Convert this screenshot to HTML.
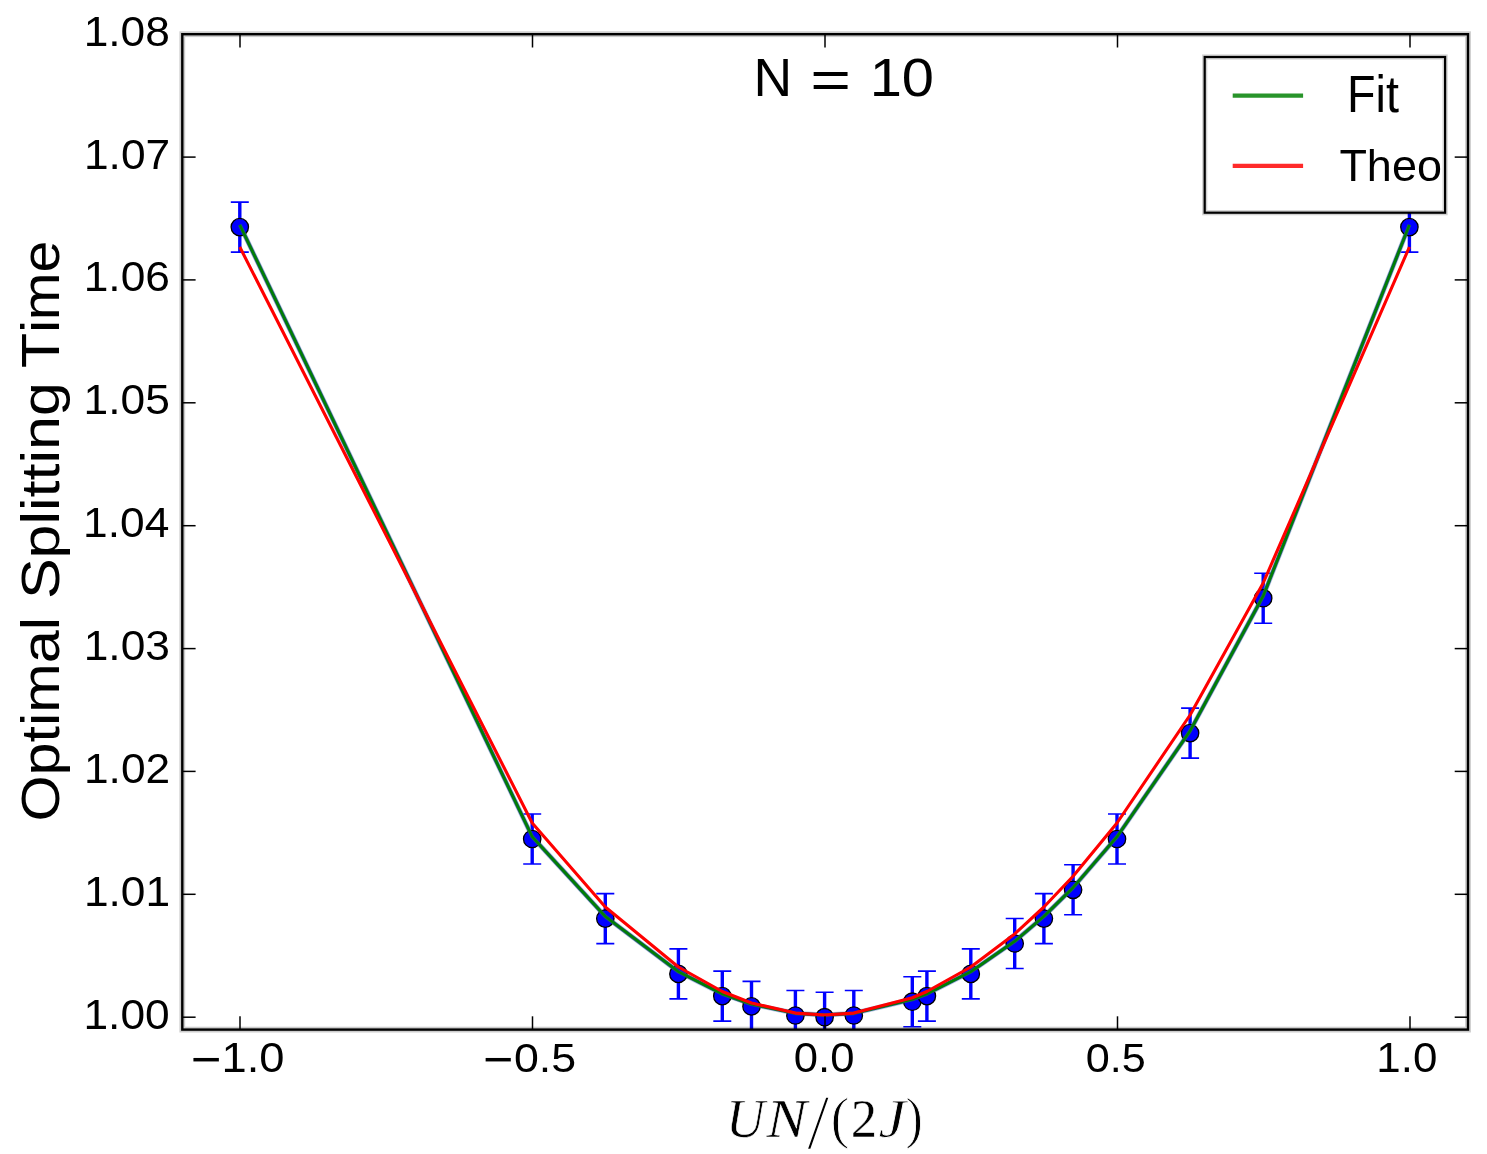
<!DOCTYPE html>
<html lang="en">
<head>
<meta charset="utf-8">
<title>Optimal Splitting Time vs UN/(2J), N = 10</title>
<style>
html,body{margin:0;padding:0;background:#ffffff;}
body{width:1487px;height:1154px;overflow:hidden;}
svg{display:block;filter:blur(0.55px);}
text{font-family:"Liberation Sans",sans-serif;fill:#000;font-kerning:none;font-variant-ligatures:none;}
.tk{font-size:40.5px;}
.serif{font-family:"Liberation Serif",serif;}
</style>
</head>
<body>
<svg width="1487" height="1154" viewBox="0 0 1487 1154">
<rect x="0" y="0" width="1487" height="1154" fill="#ffffff"/>
<defs><clipPath id="ax"><rect x="182.3" y="34.2" width="1285.7" height="995.4"/></clipPath></defs>

<g clip-path="url(#ax)">
<g stroke="#0000ff" fill="none">
<line x1="239.8" y1="202.1" x2="239.8" y2="252.1" stroke-width="3.4"/>
<line x1="230.8" y1="202.1" x2="248.8" y2="202.1" stroke-width="1.6"/>
<line x1="230.8" y1="252.1" x2="248.8" y2="252.1" stroke-width="1.6"/>
<line x1="532.2" y1="814.0" x2="532.2" y2="864.0" stroke-width="3.4"/>
<line x1="523.2" y1="814.0" x2="541.2" y2="814.0" stroke-width="1.6"/>
<line x1="523.2" y1="864.0" x2="541.2" y2="864.0" stroke-width="1.6"/>
<line x1="605.3" y1="893.6" x2="605.3" y2="943.6" stroke-width="3.4"/>
<line x1="596.3" y1="893.6" x2="614.3" y2="893.6" stroke-width="1.6"/>
<line x1="596.3" y1="943.6" x2="614.3" y2="943.6" stroke-width="1.6"/>
<line x1="678.4" y1="948.9" x2="678.4" y2="998.9" stroke-width="3.4"/>
<line x1="669.4" y1="948.9" x2="687.4" y2="948.9" stroke-width="1.6"/>
<line x1="669.4" y1="998.9" x2="687.4" y2="998.9" stroke-width="1.6"/>
<line x1="722.3" y1="971.1" x2="722.3" y2="1021.1" stroke-width="3.4"/>
<line x1="713.3" y1="971.1" x2="731.3" y2="971.1" stroke-width="1.6"/>
<line x1="713.3" y1="1021.1" x2="731.3" y2="1021.1" stroke-width="1.6"/>
<line x1="751.5" y1="981.4" x2="751.5" y2="1031.4" stroke-width="3.4"/>
<line x1="742.5" y1="981.4" x2="760.5" y2="981.4" stroke-width="1.6"/>
<line x1="742.5" y1="1031.4" x2="760.5" y2="1031.4" stroke-width="1.6"/>
<line x1="795.4" y1="990.5" x2="795.4" y2="1040.5" stroke-width="3.4"/>
<line x1="786.4" y1="990.5" x2="804.4" y2="990.5" stroke-width="1.6"/>
<line x1="786.4" y1="1040.5" x2="804.4" y2="1040.5" stroke-width="1.6"/>
<line x1="824.6" y1="992.2" x2="824.6" y2="1042.2" stroke-width="3.4"/>
<line x1="815.6" y1="992.2" x2="833.6" y2="992.2" stroke-width="1.6"/>
<line x1="815.6" y1="1042.2" x2="833.6" y2="1042.2" stroke-width="1.6"/>
<line x1="853.8" y1="990.5" x2="853.8" y2="1040.5" stroke-width="3.4"/>
<line x1="844.8" y1="990.5" x2="862.8" y2="990.5" stroke-width="1.6"/>
<line x1="844.8" y1="1040.5" x2="862.8" y2="1040.5" stroke-width="1.6"/>
<line x1="912.3" y1="976.7" x2="912.3" y2="1026.7" stroke-width="3.4"/>
<line x1="903.3" y1="976.7" x2="921.3" y2="976.7" stroke-width="1.6"/>
<line x1="903.3" y1="1026.7" x2="921.3" y2="1026.7" stroke-width="1.6"/>
<line x1="926.9" y1="971.1" x2="926.9" y2="1021.1" stroke-width="3.4"/>
<line x1="917.9" y1="971.1" x2="935.9" y2="971.1" stroke-width="1.6"/>
<line x1="917.9" y1="1021.1" x2="935.9" y2="1021.1" stroke-width="1.6"/>
<line x1="970.8" y1="948.9" x2="970.8" y2="998.9" stroke-width="3.4"/>
<line x1="961.8" y1="948.9" x2="979.8" y2="948.9" stroke-width="1.6"/>
<line x1="961.8" y1="998.9" x2="979.8" y2="998.9" stroke-width="1.6"/>
<line x1="1014.7" y1="918.5" x2="1014.7" y2="968.5" stroke-width="3.4"/>
<line x1="1005.7" y1="918.5" x2="1023.7" y2="918.5" stroke-width="1.6"/>
<line x1="1005.7" y1="968.5" x2="1023.7" y2="968.5" stroke-width="1.6"/>
<line x1="1043.9" y1="893.6" x2="1043.9" y2="943.6" stroke-width="3.4"/>
<line x1="1034.9" y1="893.6" x2="1052.9" y2="893.6" stroke-width="1.6"/>
<line x1="1034.9" y1="943.6" x2="1052.9" y2="943.6" stroke-width="1.6"/>
<line x1="1073.1" y1="864.8" x2="1073.1" y2="914.8" stroke-width="3.4"/>
<line x1="1064.1" y1="864.8" x2="1082.1" y2="864.8" stroke-width="1.6"/>
<line x1="1064.1" y1="914.8" x2="1082.1" y2="914.8" stroke-width="1.6"/>
<line x1="1117.0" y1="814.0" x2="1117.0" y2="864.0" stroke-width="3.4"/>
<line x1="1108.0" y1="814.0" x2="1126.0" y2="814.0" stroke-width="1.6"/>
<line x1="1108.0" y1="864.0" x2="1126.0" y2="864.0" stroke-width="1.6"/>
<line x1="1190.1" y1="708.1" x2="1190.1" y2="758.1" stroke-width="3.4"/>
<line x1="1181.1" y1="708.1" x2="1199.1" y2="708.1" stroke-width="1.6"/>
<line x1="1181.1" y1="758.1" x2="1199.1" y2="758.1" stroke-width="1.6"/>
<line x1="1263.2" y1="573.2" x2="1263.2" y2="623.2" stroke-width="3.4"/>
<line x1="1254.2" y1="573.2" x2="1272.2" y2="573.2" stroke-width="1.6"/>
<line x1="1254.2" y1="623.2" x2="1272.2" y2="623.2" stroke-width="1.6"/>
<line x1="1409.4" y1="202.1" x2="1409.4" y2="252.1" stroke-width="3.4"/>
<line x1="1400.4" y1="202.1" x2="1418.4" y2="202.1" stroke-width="1.6"/>
<line x1="1400.4" y1="252.1" x2="1418.4" y2="252.1" stroke-width="1.6"/>
</g>
<polyline points="239.8,224.9 532.2,836.8 605.3,916.4 678.4,971.7 722.3,993.9 751.5,1004.2 795.4,1013.3 824.6,1015.0 853.8,1013.3 912.3,999.5 926.9,993.9 970.8,971.7 1014.7,941.3 1043.9,916.4 1073.1,887.6 1117.0,836.8 1190.1,730.9 1263.2,596.0 1409.4,224.9" fill="none" stroke="#8fa3d6" stroke-opacity="0.6" stroke-width="5.0" stroke-linejoin="round"/>
<g fill="#0000ff" stroke="#000000" stroke-width="1.3">
<circle cx="239.8" cy="227.1" r="8.7"/>
<circle cx="532.2" cy="839.0" r="8.7"/>
<circle cx="605.3" cy="918.6" r="8.7"/>
<circle cx="678.4" cy="973.9" r="8.7"/>
<circle cx="722.3" cy="996.1" r="8.7"/>
<circle cx="751.5" cy="1006.4" r="8.7"/>
<circle cx="795.4" cy="1015.5" r="8.7"/>
<circle cx="824.6" cy="1017.2" r="8.7"/>
<circle cx="853.8" cy="1015.5" r="8.7"/>
<circle cx="912.3" cy="1001.7" r="8.7"/>
<circle cx="926.9" cy="996.1" r="8.7"/>
<circle cx="970.8" cy="973.9" r="8.7"/>
<circle cx="1014.7" cy="943.5" r="8.7"/>
<circle cx="1043.9" cy="918.6" r="8.7"/>
<circle cx="1073.1" cy="889.8" r="8.7"/>
<circle cx="1117.0" cy="839.0" r="8.7"/>
<circle cx="1190.1" cy="733.1" r="8.7"/>
<circle cx="1263.2" cy="598.2" r="8.7"/>
<circle cx="1409.4" cy="227.1" r="8.7"/>
</g>
<polyline points="239.8,224.9 532.2,836.8 605.3,916.4 678.4,971.7 722.3,993.9 751.5,1004.2 795.4,1013.3 824.6,1015.0 853.8,1013.3 912.3,999.5 926.9,993.9 970.8,971.7 1014.7,941.3 1043.9,916.4 1073.1,887.6 1117.0,836.8 1190.1,730.9 1263.2,596.0 1409.4,224.9" fill="none" stroke="#1f5f66" stroke-width="3.7" stroke-linejoin="round"/>
<polyline points="239.8,224.9 532.2,836.8 605.3,916.4 678.4,971.7 722.3,993.9 751.5,1004.2 795.4,1013.3 824.6,1015.0 853.8,1013.3 912.3,999.5 926.9,993.9 970.8,971.7 1014.7,941.3 1043.9,916.4 1073.1,887.6 1117.0,836.8 1190.1,730.9 1263.2,596.0 1409.4,224.9" fill="none" stroke="#008000" stroke-width="2.3" stroke-linejoin="round"/>
<polyline points="239.8,247.0 532.2,823.0 605.3,907.0 678.4,967.0 722.3,991.5 751.5,1003.0 795.4,1013.1 824.6,1015.0 853.8,1013.1 912.3,997.7 926.9,991.5 970.8,967.0 1014.7,933.9 1043.9,907.0 1073.1,876.3 1117.0,823.0 1190.1,715.0 1263.2,583.0 1409.4,247.0" fill="none" stroke="#ff0000" stroke-width="3.1" stroke-linejoin="round"/>
</g>
<g stroke="#000000" stroke-width="1.5" fill="none">
<line x1="240.0" y1="1029.6" x2="240.0" y2="1016.3"/>
<line x1="240.0" y1="34.2" x2="240.0" y2="47.5"/>
<line x1="532.5" y1="1029.6" x2="532.5" y2="1016.3"/>
<line x1="532.5" y1="34.2" x2="532.5" y2="47.5"/>
<line x1="825.0" y1="1029.6" x2="825.0" y2="1016.3"/>
<line x1="825.0" y1="34.2" x2="825.0" y2="47.5"/>
<line x1="1117.5" y1="1029.6" x2="1117.5" y2="1016.3"/>
<line x1="1117.5" y1="34.2" x2="1117.5" y2="47.5"/>
<line x1="1410.0" y1="1029.6" x2="1410.0" y2="1016.3"/>
<line x1="1410.0" y1="34.2" x2="1410.0" y2="47.5"/>
<line x1="182.3" y1="1017.2" x2="195.6" y2="1017.2"/>
<line x1="1468.0" y1="1017.2" x2="1454.7" y2="1017.2"/>
<line x1="182.3" y1="894.3" x2="195.6" y2="894.3"/>
<line x1="1468.0" y1="894.3" x2="1454.7" y2="894.3"/>
<line x1="182.3" y1="771.4" x2="195.6" y2="771.4"/>
<line x1="1468.0" y1="771.4" x2="1454.7" y2="771.4"/>
<line x1="182.3" y1="648.6" x2="195.6" y2="648.6"/>
<line x1="1468.0" y1="648.6" x2="1454.7" y2="648.6"/>
<line x1="182.3" y1="525.7" x2="195.6" y2="525.7"/>
<line x1="1468.0" y1="525.7" x2="1454.7" y2="525.7"/>
<line x1="182.3" y1="402.8" x2="195.6" y2="402.8"/>
<line x1="1468.0" y1="402.8" x2="1454.7" y2="402.8"/>
<line x1="182.3" y1="279.9" x2="195.6" y2="279.9"/>
<line x1="1468.0" y1="279.9" x2="1454.7" y2="279.9"/>
<line x1="182.3" y1="157.1" x2="195.6" y2="157.1"/>
<line x1="1468.0" y1="157.1" x2="1454.7" y2="157.1"/>
</g>
<rect x="182.3" y="34.2" width="1285.7" height="995.4" fill="none" stroke="#000000" stroke-opacity="0.2" stroke-width="5.8"/>
<rect x="182.3" y="34.2" width="1285.7" height="995.4" fill="none" stroke="#000000" stroke-width="2.4"/>
<rect x="1204.7" y="57.0" width="240.4" height="155.7" fill="#ffffff" stroke="#000000" stroke-opacity="0.18" stroke-width="5.2"/>
<rect x="1204.7" y="57.0" width="240.4" height="155.7" fill="none" stroke="#000000" stroke-width="2.2"/>
<line x1="1232.7" y1="95.6" x2="1303.1" y2="95.6" stroke="#28942a" stroke-width="4.2"/>
<line x1="1232.7" y1="165.8" x2="1303.1" y2="165.8" stroke="#ff2a2a" stroke-width="4.2"/>
<text transform="translate(1347.07,112.20) scale(0.9127,1.0000)" font-size="51.16px">Fit</text>
<text transform="translate(1339.39,180.70) scale(1.0022,1.0000)" font-size="44.91px">Theo</text>
<text transform="translate(83.46,1028.70) scale(1.0516,1)" font-size="42.15px">1.00</text>
<text transform="translate(83.89,905.82) scale(1.0516,1)" font-size="42.15px">1.01</text>
<text transform="translate(83.95,782.95) scale(1.0516,1)" font-size="42.15px">1.02</text>
<text transform="translate(83.67,660.07) scale(1.0516,1)" font-size="42.15px">1.03</text>
<text transform="translate(83.02,537.20) scale(1.0516,1)" font-size="42.15px">1.04</text>
<text transform="translate(83.59,414.32) scale(1.0516,1)" font-size="42.15px">1.05</text>
<text transform="translate(83.67,291.45) scale(1.0516,1)" font-size="42.15px">1.06</text>
<text transform="translate(83.95,168.57) scale(1.0516,1)" font-size="42.15px">1.07</text>
<text transform="translate(83.65,45.70) scale(1.0516,1)" font-size="42.15px">1.08</text>
<text transform="translate(190.91,1076.28) scale(1.2452,1.1647)" font-size="42.15px">−</text>
<text transform="translate(221.55,1072.20) scale(1.0830,1.0000)" font-size="41.86px">1.0</text>
<text transform="translate(483.34,1076.28) scale(1.2305,1.1647)" font-size="42.15px">−</text>
<text transform="translate(513.95,1071.80) scale(1.0827,1.0000)" font-size="41.28px">0.5</text>
<text transform="translate(793.80,1072.09) scale(1.0428,1.0000)" font-size="41.81px">0.0</text>
<text transform="translate(1085.71,1071.80) scale(1.0457,1.0000)" font-size="41.28px">0.5</text>
<text transform="translate(1376.35,1072.20) scale(1.0493,1.0000)" font-size="41.86px">1.0</text>
<text transform="translate(753.51,95.60) scale(0.9926,1.0000)" font-size="53.93px">N</text>
<text transform="translate(810.19,97.51) scale(1.3150,1.0000)" font-size="53.06px">=</text>
<text transform="translate(869.69,95.60) scale(1.0731,1.0000)" font-size="53.93px">10</text>
<text transform="translate(58.50,821.61) rotate(-90) scale(1.0936,1)" font-size="54.30px">Optimal</text>
<text transform="translate(58.50,599.07) rotate(-90) scale(1.1233,1)" font-size="54.30px">Splitting</text>
<text transform="translate(58.50,367.89) rotate(-90) scale(1.0561,1)" font-size="54.30px">Time</text>
<text stroke="#ffffff" stroke-width="0.6" vector-effect="non-scaling-stroke" paint-order="fill stroke" transform="translate(725.88,1137.36) scale(0.9708,1.0000)" font-size="55.23px" class="serif" font-style="italic">U</text>
<text stroke="#ffffff" stroke-width="0.5" vector-effect="non-scaling-stroke" paint-order="fill stroke" transform="translate(766.44,1137.30) scale(1.0998,1.0000)" font-size="55.13px" class="serif" font-style="italic">N</text>
<text stroke="#ffffff" stroke-width="1.5" paint-order="fill stroke" transform="translate(806.90,1148.14) scale(1.0372,1.0000)" font-size="77.73px" class="serif">/</text>
<text stroke="#ffffff" stroke-width="0.9" vector-effect="non-scaling-stroke" paint-order="fill stroke" transform="translate(830.87,1136.64) scale(0.9678,1.0000)" font-size="57.13px" class="serif">(</text>
<text stroke="#ffffff" stroke-width="0.35" vector-effect="non-scaling-stroke" paint-order="fill stroke" transform="translate(850.79,1137.00) scale(0.9762,1.0000)" font-size="53.92px" class="serif">2</text>
<text stroke="#ffffff" stroke-width="0.8" vector-effect="non-scaling-stroke" paint-order="fill stroke" transform="translate(878.47,1137.46) scale(1.1050,1.0000)" font-size="55.53px" class="serif" font-style="italic">J</text>
<text stroke="#ffffff" stroke-width="0.9" vector-effect="non-scaling-stroke" paint-order="fill stroke" transform="translate(905.52,1136.64) scale(0.9133,1.0000)" font-size="57.13px" class="serif">)</text>
</svg>
</body>
</html>
